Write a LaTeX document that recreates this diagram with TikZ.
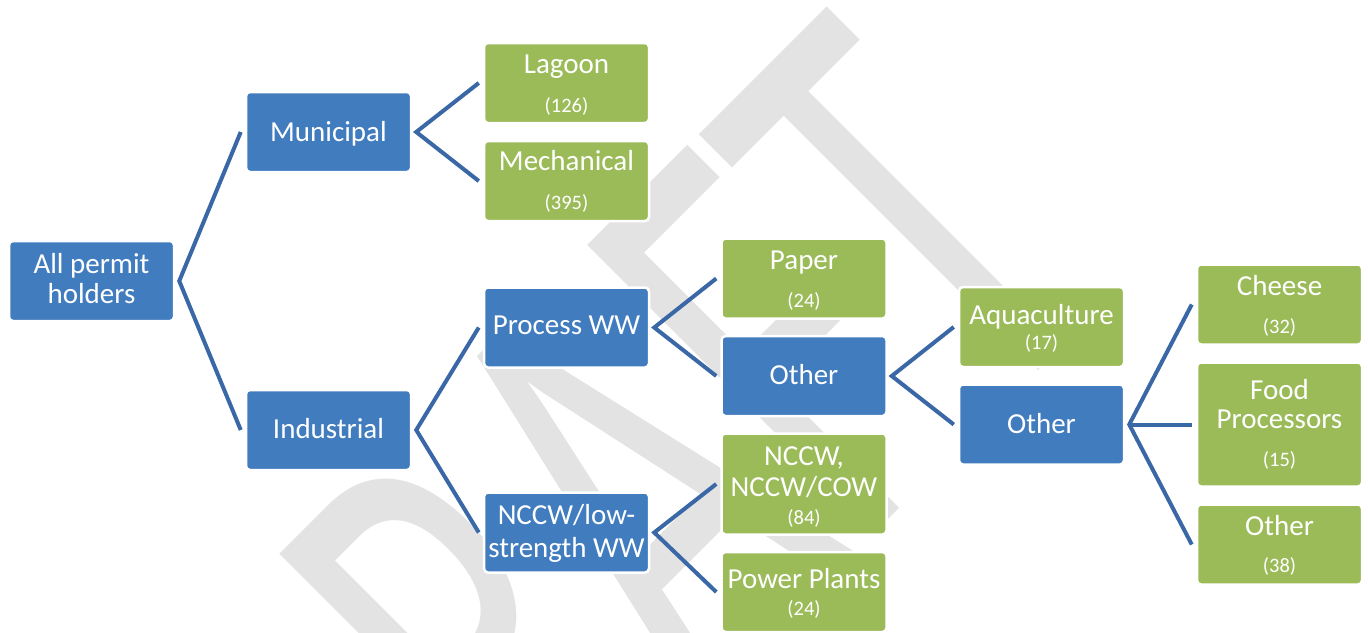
\documentclass[tikz,border=0pt]{standalone}
\usepackage{fontspec}
\setmainfont{Carlito}
\usetikzlibrary{calc}
\definecolor{bluebox}{HTML}{417CBE}
\definecolor{greenbox}{HTML}{9BBB59}
\definecolor{connc}{HTML}{3A67A6}
\definecolor{wmgray}{RGB}{227,227,227}
\begin{document}
\begin{tikzpicture}[x=1pt,y=-1pt,
  box/.style={rectangle, rounded corners=4pt, draw=white, line width=2.5pt, minimum width=165pt, minimum height=80pt, inner sep=0pt},
  bluen/.style={box, fill=bluebox},
  greenn/.style={box, fill=greenbox},
  lbl/.style={anchor=base, inner sep=0pt, text=white, font=\fontsize{29}{29}\selectfont},
  cnt/.style={anchor=base, inner sep=0pt, text=white, font=\fontsize{20.5}{20.5}\selectfont},
  conn/.style={draw=connc, line width=4pt, line join=miter}]
\useasboundingbox (0,0) rectangle (1368,632);
\fill[white] (0,0) rectangle (1368,632);
% watermark
\begin{scope}
\clip (0,0) rectangle (1368,632);
\begin{scope}[shift={(1118,290.6)}, rotate=45]
\node[anchor=base east, inner sep=0pt, yscale=1.625, transform shape, text=wmgray, font=\fontsize{390}{390}\selectfont] (wm) at (0,0) {DRAFT};
\end{scope}
\end{scope}
% boxes
\node[bluen] (all) at (91.5,281) {};
\node[bluen] (municipal) at (328.5,132) {};
\node[bluen] (industrial) at (328.5,430) {};
\node[greenn] (lagoon) at (566.5,83) {};
\node[greenn] (mechanical) at (566.5,181) {};
\node[bluen] (process) at (566.5,327.5) {};
\node[bluen] (nccwlow) at (566.5,532.5) {};
\node[greenn] (paper) at (804,278.5) {};
\node[bluen] (other1) at (804,376) {};
\node[greenn, minimum height=101pt] (nccw) at (804,484) {};
\node[greenn] (power) at (804,592) {};
\node[greenn] (aqua) at (1041.5,327) {};
\node[bluen] (other2) at (1041.5,424.5) {};
\node[greenn] (cheese) at (1279.5,304.5) {};
\node[greenn, minimum height=124pt] (food) at (1279.5,424.5) {};
\node[greenn] (other3) at (1279.5,544.5) {};
% connectors
\draw[conn] ($(municipal.west)+(-4,0)$) -- ($(all.east)+(4,0)$) -- ($(industrial.west)+(-4,0)$);
\draw[conn] ($(lagoon.west)+(-4,0)$) -- ($(municipal.east)+(4,0)$) -- ($(mechanical.west)+(-4,0)$);
\draw[conn] ($(process.west)+(-4,0)$) -- ($(industrial.east)+(4,0)$) -- ($(nccwlow.west)+(-4,0)$);
\draw[conn] ($(paper.west)+(-4,0)$) -- ($(process.east)+(4,0)$) -- ($(other1.west)+(-4,0)$);
\draw[conn] ($(nccw.west)+(-4,0)$) -- ($(nccwlow.east)+(4,0)$) -- ($(power.west)+(-4,0)$);
\draw[conn] ($(aqua.west)+(-4,0)$) -- ($(other1.east)+(4,0)$) -- ($(other2.west)+(-4,0)$);
\draw[conn] ($(cheese.west)+(-4,0)$) -- ($(other2.east)+(4,0)$) -- ($(other3.west)+(-4,0)$);
\draw[conn] ($(other2.east)+(4,0)$) -- ($(food.west)+(-4,0)$);
% labels
\node[lbl] (allA) at (91.5,273) {All permit};
\node[lbl] (allB) at (91.5,303) {holders};
\node[lbl] (munT) at (328.5,141) {Municipal};
\node[lbl] (indT) at (328.5,438) {Industrial};
\node[lbl] (lagT) at (566.5,73) {Lagoon};
\node[cnt] (lagN) at (566.5,112) {(126)};
\node[lbl] (mecT) at (566.5,170) {Mechanical};
\node[cnt] (mecN) at (566.5,209) {(395)};
\node[lbl] (proT) at (566.5,334) {Process WW};
\node[lbl] (lowA) at (566.5,524) {NCCW/low-};
\node[lbl] (lowB) at (566.5,557) {strength WW};
\node[lbl] (papT) at (804,269) {Paper};
\node[cnt] (papN) at (804,307) {(24)};
\node[lbl] (oth1T) at (804,384) {Other};
\node[lbl] (ncA) at (804,465) {NCCW,};
\node[lbl] (ncB) at (804,496) {NCCW/COW};
\node[cnt] (ncN) at (804,524) {(84)};
\node[lbl] (powT) at (804,588) {Power Plants};
\node[cnt] (powN) at (804,615) {(24)};
\node[lbl] (aquT) at (1041.5,324) {Aquaculture};
\node[cnt] (aquN) at (1041.5,349) {(17)};
\node[lbl] (oth2T) at (1041.5,433) {Other};
\node[lbl] (cheT) at (1279.5,295) {Cheese};
\node[cnt] (cheN) at (1279.5,333) {(32)};
\node[lbl] (fooA) at (1279.5,399) {Food};
\node[lbl] (fooB) at (1279.5,428) {Processors};
\node[cnt] (fooN) at (1279.5,466) {(15)};
\node[lbl] (oth3T) at (1279.5,535) {Other};
\node[cnt] (oth3N) at (1279.5,572) {(38)};
\end{tikzpicture}
\end{document}
